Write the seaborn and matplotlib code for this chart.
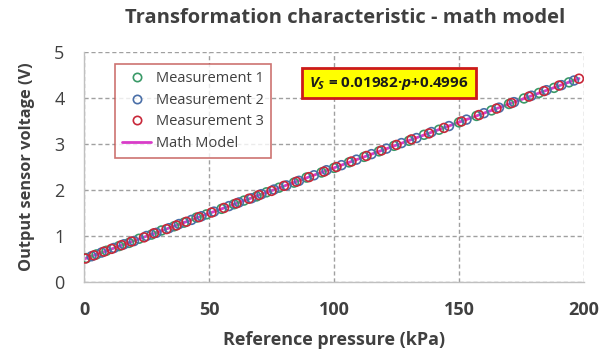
import matplotlib
matplotlib.use("Agg")
import matplotlib.pyplot as plt
from matplotlib.lines import Line2D
import seaborn as sns
import pandas as pd

# ---- data ----
p1 = [1, 5, 9, 14, 18, 22, 27, 31, 36, 40, 45, 49, 55, 60, 64, 69, 73, 78, 84, 89, 95,
      100, 106, 112, 118, 124, 130, 136, 142, 150, 157, 163, 170, 176, 182, 188, 194]
v1 = [0.52, 0.60, 0.68, 0.78, 0.85, 0.94, 1.03, 1.12, 1.21, 1.29, 1.40, 1.47, 1.59, 1.69,
      1.77, 1.86, 1.95, 2.05, 2.16, 2.27, 2.38, 2.48, 2.60, 2.72, 2.84, 2.96, 3.07, 3.20,
      3.31, 3.47, 3.61, 3.73, 3.87, 3.99, 4.11, 4.22, 4.34]
p2 = [3, 7, 12, 16, 20, 25, 29, 34, 38, 43, 47, 52, 58, 62, 67, 71, 76, 81, 86, 92, 97,
      103, 109, 115, 121, 127, 133, 139, 146, 153, 160, 166, 172, 179, 185, 191, 196]
v2 = [0.56, 0.64, 0.74, 0.82, 0.89, 1.00, 1.07, 1.17, 1.26, 1.35, 1.43, 1.53, 1.65, 1.73,
      1.82, 1.91, 2.01, 2.10, 2.20, 2.32, 2.43, 2.54, 2.66, 2.78, 2.90, 3.02, 3.13, 3.26,
      3.39, 3.53, 3.67, 3.79, 3.91, 4.05, 4.17, 4.28, 4.38]
p3 = [0.5, 4, 8, 11, 15, 19, 24, 28, 33, 37, 41, 46, 51, 56, 61, 66, 70, 75, 80, 85, 90,
      96, 101, 107, 113, 119, 125, 131, 138, 144, 151, 158, 165, 171, 178, 184, 190, 198]
v3 = [0.51, 0.58, 0.66, 0.72, 0.80, 0.88, 0.97, 1.06, 1.15, 1.23, 1.31, 1.41, 1.51, 1.61,
      1.71, 1.81, 1.89, 1.98, 2.09, 2.18, 2.28, 2.40, 2.50, 2.62, 2.74, 2.86, 2.98, 3.10,
      3.23, 3.35, 3.49, 3.63, 3.77, 3.89, 4.03, 4.15, 4.27, 4.42]
model_p = [0, 198]
model_v = [0.4996, 4.4240]
series_names = ["Measurement 1", "Measurement 2", "Measurement 3", "Math Model"]
equation = r"$V_S$ = 0.01982·$p$+0.4996"
x_ticks = [0, 50, 100, 150, 200]
y_ticks = [0, 1, 2, 3, 4, 5]

# ---- style ----
sns.set_theme(style="white")
plt.rcParams["font.family"] = ["Open Sans", "DejaVu Sans"]
plt.rcParams["mathtext.fontset"] = "custom"
plt.rcParams["mathtext.it"] = "Open Sans:bold:italic"
plt.rcParams["mathtext.rm"] = "Open Sans:bold"
plt.rcParams["mathtext.bf"] = "Open Sans:bold"

txt = "#404040"
c1, c2, c3, cm = "#3a9a68", "#4a6fa8", "#c8283a", "#d83cc8"

fig = plt.figure(figsize=(6.12, 3.51), dpi=100)
ax = fig.add_axes([84 / 612, 1 - 282 / 351, 500 / 612, 230 / 351])

sns.lineplot(x=model_p, y=model_v, ax=ax, color=cm, linewidth=2, zorder=2)
for pp, vv, cc in [(p1, v1, c1), (p2, v2, c2), (p3, v3, c3)]:
    df = pd.DataFrame({"p": pp, "v": vv})
    sns.scatterplot(data=df, x="p", y="v", ax=ax, s=40, facecolor="none",
                    edgecolor=cc, linewidth=1.2, zorder=3)

ax.set_xlim(0, 200)
ax.set_ylim(0, 5)
ax.set_xticks(x_ticks)
ax.set_yticks(y_ticks)
ax.grid(True, color="#a0a0a0", linestyle=(0, (3, 2)), linewidth=1)
for s in ["top", "right"]:
    ax.spines[s].set_visible(False)
for s in ["left", "bottom"]:
    ax.spines[s].set_color("#c0c0c0")
    ax.spines[s].set_linewidth(1)
ax.tick_params(axis="x", pad=14, labelsize=13, colors=txt, length=0)
ax.tick_params(axis="y", pad=14, labelsize=13, colors=txt, length=0)
for lab in ax.get_xticklabels():
    lab.set_fontweight("bold")
ax.set_xlabel("Reference pressure (kPa)", fontsize=13, fontweight="bold", color=txt, labelpad=8)
ax.set_ylabel("Output sensor voltage (V)", fontsize=11.8, fontweight="bold", color=txt, labelpad=14)

fig.text(345 / 612, 1 - 18 / 351, "Transformation characteristic - math model",
         ha="center", va="center", fontsize=14.5, fontweight="bold", color=txt)

handles = [
    Line2D([], [], marker="o", linestyle="none", markerfacecolor="none", markeredgecolor=c1, markersize=6, markeredgewidth=1.2),
    Line2D([], [], marker="o", linestyle="none", markerfacecolor="none", markeredgecolor=c2, markersize=6, markeredgewidth=1.2),
    Line2D([], [], marker="o", linestyle="none", markerfacecolor="none", markeredgecolor=c3, markersize=6, markeredgewidth=1.2),
    Line2D([], [], color=cm, linewidth=2),
]
leg = ax.legend(handles, series_names, loc="upper left",
                bbox_to_anchor=(115 / 612, 1 - 64 / 351), bbox_transform=fig.transFigure,
                frameon=True, fancybox=False, fontsize=10.5, labelcolor=txt,
                handlelength=2.0, handletextpad=0.3, borderpad=0.5, labelspacing=0.45,
                borderaxespad=0)
leg.get_frame().set_edgecolor("#c0504d")
leg.get_frame().set_linewidth(1.2)
leg.get_frame().set_facecolor("white")

ax.text(389 / 612, 1 - 83 / 351, equation, transform=fig.transFigure, ha="center", va="center",
        fontsize=11, fontweight="bold", color="#1a1a1a", zorder=6,
        bbox=dict(boxstyle="square,pad=0.45", facecolor="#ffff00", edgecolor="#cc1a1a", linewidth=2))

fig.savefig("out.png", dpi=100)
